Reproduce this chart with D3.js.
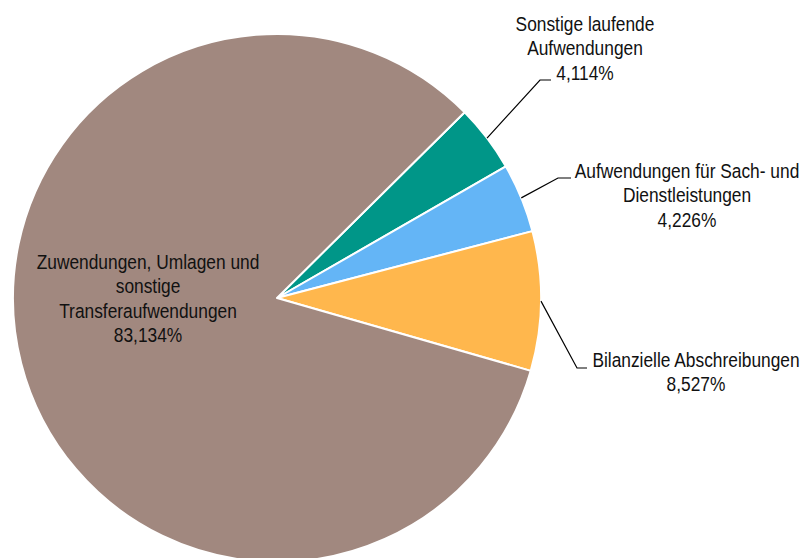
<!DOCTYPE html>
<html>
<head>
<meta charset="utf-8">
<script src="https://cdn.jsdelivr.net/npm/d3@7"></script>
<style>
  html, body { margin: 0; padding: 0; background: #fff; }
  svg text { font-family: "Liberation Sans Narrow", "Arial Narrow", "Liberation Sans", Arial, sans-serif; fill: #111; }
</style>
</head>
<body>
<div id="chart"></div>
<script>
// slice order as drawn, clockwise
const categories = [
  'Sonstige laufende Aufwendungen',
  'Aufwendungen für Sach- und Dienstleistungen',
  'Bilanzielle Abschreibungen',
  'Zuwendungen, Umlagen und sonstige Transferaufwendungen'
];
const shares = [4.114, 4.226, 8.527, 83.134];
const labelLines = [
  ['Sonstige laufende', 'Aufwendungen'],
  ['Aufwendungen für Sach- und', 'Dienstleistungen'],
  ['Bilanzielle Abschreibungen'],
  ['Zuwendungen, Umlagen und', 'sonstige', 'Transferaufwendungen']
];

const colors = ['#009688', '#64B5F6', '#FFB74D', '#A1887F'];

const width = 810;
const height = 558;
const cx = 277;
const cy = 298;
const radius = 264;
const startDeg = 45.3;
const fontSize = 19.5;
const squeeze = 0.89; // no narrow font installed, so the regular one is squeezed sideways
const lineHeight = 24.4;

// label placement: elbow of leader line, end of the short horizontal, text centre and first baseline
const labelLayout = [
  { elbow: [540, 80], end: 551, tx: 585, ty: 31 },
  { elbow: [558, 178], end: 571, tx: 687, ty: 178 },
  { elbow: [577, 368], end: 587, tx: 696, ty: 367 },
  { inside: true, tx: 148, ty: 269 }
];

const de = d3.formatLocale({ decimal: ',', thousands: '.', grouping: [3], currency: ['', ' €'] });
const fmt = v => de.format('.3f')(v) + '%';

const svg = d3.select('#chart').append('svg')
  .attr('width', width)
  .attr('height', height);

const pie = d3.pie()
  .sort(null)
  .value(d => d)
  .startAngle(startDeg * Math.PI / 180)
  .endAngle(startDeg * Math.PI / 180 + 2 * Math.PI);

const arcs = pie(shares);

const arc = d3.arc().innerRadius(0).outerRadius(radius);

const g = svg.append('g').attr('transform', `translate(${cx},${cy})`);

g.selectAll('path')
  .data(arcs)
  .join('path')
    .attr('d', arc)
    .attr('fill', (d, i) => colors[i])
    .attr('stroke', '#fff')
    .attr('stroke-width', 2)
    .attr('stroke-linejoin', 'round');

const edgePoint = d => {
  const a = (d.startAngle + d.endAngle) / 2;
  return [cx + radius * Math.sin(a), cy - radius * Math.cos(a)];
};

// leader lines
svg.append('g')
  .selectAll('polyline')
  .data(arcs.filter((d, i) => !labelLayout[i].inside))
  .join('polyline')
    .attr('fill', 'none')
    .attr('stroke', '#000')
    .attr('stroke-width', 1.2)
    .attr('points', d => {
      const l = labelLayout[d.index];
      const p = edgePoint(d);
      return [p, l.elbow, [l.end, l.elbow[1]]].map(q => q.join(',')).join(' ');
    });

// labels
const labels = svg.append('g')
  .selectAll('text')
  .data(arcs)
  .join('text')
    .attr('text-anchor', 'middle')
    .attr('font-size', fontSize)
    .attr('transform', (d, i) => `translate(${labelLayout[i].tx},0) scale(${squeeze},1)`);

labels.each(function(d, i) {
  const l = labelLayout[i];
  const lines = labelLines[i].concat([fmt(shares[i])]);
  d3.select(this).selectAll('tspan')
    .data(lines)
    .join('tspan')
      .attr('x', 0)
      .attr('y', (t, j) => l.ty + j * lineHeight)
      .text(t => t);
});
</script>
</body>
</html>
